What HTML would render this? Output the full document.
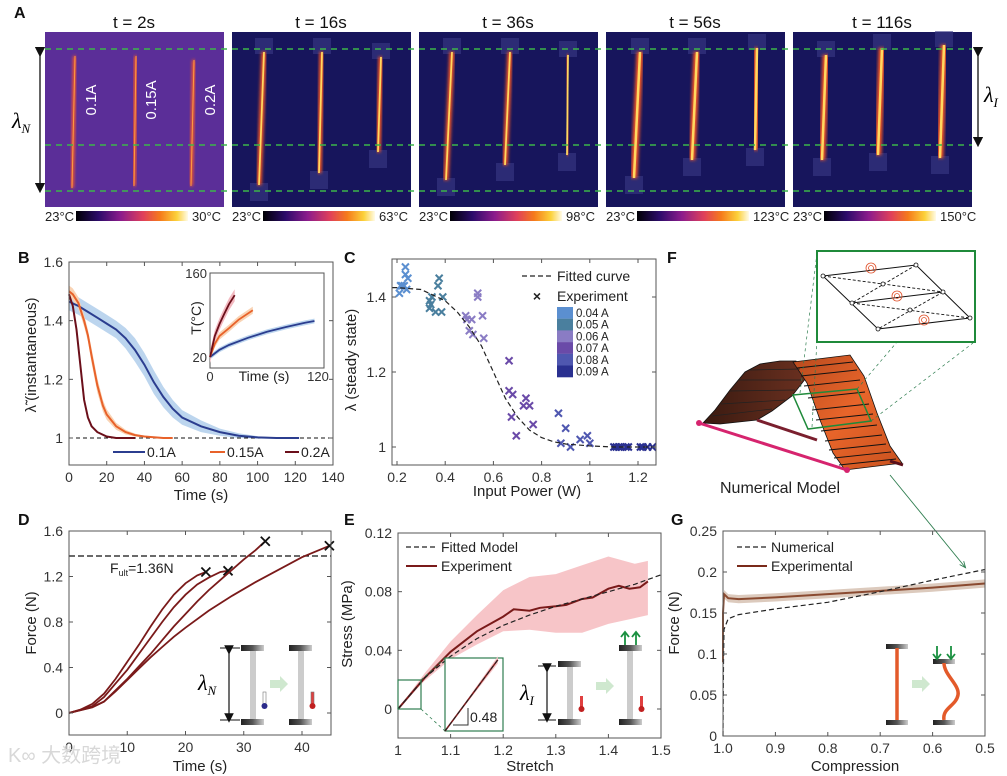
<!DOCTYPE html>
<html><head><meta charset="utf-8"><style>
html,body{margin:0;padding:0;background:#fff;}
svg{display:block;font-family:"Liberation Sans",sans-serif;}
</style></head><body>
<svg id="fig" width="1007" height="776" viewBox="0 0 1007 776" xmlns="http://www.w3.org/2000/svg">
<defs>
<linearGradient id="cbar" x1="0" x2="1" y1="0" y2="0">
<stop offset="0" stop-color="#000004"/><stop offset="0.2" stop-color="#2c0b6a"/><stop offset="0.4" stop-color="#8c1c8c"/><stop offset="0.6" stop-color="#e0405a"/><stop offset="0.75" stop-color="#f57a1c"/><stop offset="0.9" stop-color="#fcd13a"/><stop offset="1" stop-color="#fffbe8"/></linearGradient>
<linearGradient id="clamp" x1="0" x2="1"><stop offset="0" stop-color="#222"/><stop offset="0.5" stop-color="#555"/><stop offset="1" stop-color="#ccc"/></linearGradient>
<linearGradient id="orangeface" x1="0" x2="1" y1="0" y2="1"><stop offset="0" stop-color="#b84a1e"/><stop offset="0.5" stop-color="#e8652a"/><stop offset="1" stop-color="#c9521f"/></linearGradient>
<linearGradient id="darkface" x1="0" x2="1"><stop offset="0" stop-color="#3a1a10"/><stop offset="1" stop-color="#6a3020"/></linearGradient>
<filter id="glow" x="-50%" y="-10%" width="200%" height="120%"><feGaussianBlur stdDeviation="1.6"/></filter>
<marker id="ah" markerWidth="8" markerHeight="8" refX="4" refY="4" orient="auto"><path d="M0,0 L8,4 L0,8 z" fill="#111"/></marker>
<marker id="ahg" markerWidth="8" markerHeight="8" refX="6" refY="4" orient="auto"><path d="M0,1 L7,4 L0,7" fill="none" stroke="#2e7d4f" stroke-width="1"/></marker>
</defs>

<g font-weight="bold" font-size="16" fill="#111">
<text x="14" y="18">A</text>
<text x="18" y="263">B</text>
<text x="344" y="263">C</text>
<text x="667" y="263">F</text>
<text x="18" y="525">D</text>
<text x="344" y="525">E</text>
<text x="671" y="525">G</text>
</g>

<g id="panelA"></g>

<g>
<line x1="40" y1="52" x2="40" y2="188" stroke="#111" stroke-width="1.3" marker-start="url(#ah)" marker-end="url(#ah)"/>
<text x="12" y="128" font-family="Liberation Serif,serif" font-style="italic" font-size="22">λ<tspan font-size="13" dy="5">N</tspan></text>
</g>
<g>
<line x1="978" y1="52" x2="978" y2="142" stroke="#111" stroke-width="1.3" marker-start="url(#ah)" marker-end="url(#ah)"/>
<text x="984" y="102" font-family="Liberation Serif,serif" font-style="italic" font-size="22">λ<tspan font-size="13" dy="5">I</tspan></text>
</g>

<g>
<polygon points="703,423 715,410 730,390 745,372 760,364 780,361 796,361 806,378 792,396 772,411 757,420 720,424" fill="url(#darkface)" stroke="#111" stroke-width="0.8"/>
<polygon points="793,362 850,355 864,376 877,413 890,446 902,463 845,470 833,453 820,420 807,383" fill="url(#orangeface)" stroke="#111" stroke-width="0.8"/>
<g stroke="#111" stroke-width="0.9">
<line x1="797" y1="368" x2="853" y2="362"/><line x1="801" y1="376" x2="857" y2="370"/><line x1="804" y1="386" x2="860" y2="380"/><line x1="808" y1="398" x2="865" y2="392"/><line x1="812" y1="410" x2="869" y2="404"/><line x1="816" y1="420" x2="873" y2="414"/><line x1="821" y1="431" x2="877" y2="425"/><line x1="825" y1="441" x2="882" y2="435"/><line x1="829" y1="450" x2="886" y2="444"/><line x1="834" y1="458" x2="891" y2="452"/><line x1="839" y1="465" x2="896" y2="459"/>
<line x1="712" y1="416" x2="772" y2="409" stroke="#222" stroke-width="0.7"/><line x1="721" y1="404" x2="785" y2="400" stroke="#222" stroke-width="0.7"/><line x1="730" y1="391" x2="795" y2="390" stroke="#222" stroke-width="0.7"/><line x1="739" y1="380" x2="801" y2="380" stroke="#222" stroke-width="0.7"/><line x1="750" y1="370" x2="800" y2="369" stroke="#222" stroke-width="0.7"/>
</g>
<line x1="757" y1="420" x2="817" y2="440" stroke="#7a1f2e" stroke-width="3"/>
<line x1="699" y1="423" x2="847" y2="470" stroke="#d6246e" stroke-width="3"/>
<circle cx="699" cy="423" r="3" fill="#d6246e"/><circle cx="847" cy="470" r="3" fill="#d6246e"/>
<line x1="890" y1="461" x2="903" y2="465" stroke="#5a0f1a" stroke-width="3"/>
<polygon points="793,395 857,389 871,421 808,429" fill="none" stroke="#1f8a3a" stroke-width="1.5"/>
<g stroke="#2e7d4f" stroke-width="0.7" stroke-dasharray="3,3" fill="none">
<line x1="800" y1="393" x2="817" y2="253"/><line x1="812" y1="427" x2="817" y2="340"/>
<line x1="857" y1="389" x2="897" y2="342"/><line x1="871" y1="421" x2="973" y2="343"/>
</g>
<rect x="817" y="251" width="158" height="91" fill="#fff" stroke="#1f8a3a" stroke-width="2"/>
<g stroke="#111" fill="none">
<polygon points="823,276 916,265 970,318 878,329" stroke-width="1"/>
<line x1="852" y1="303" x2="943" y2="292" stroke-width="1"/>
<g stroke-dasharray="3,2" stroke-width="0.9"><line x1="823" y1="276" x2="943" y2="292"/><line x1="916" y1="265" x2="852" y2="303"/><line x1="852" y1="303" x2="970" y2="318"/><line x1="943" y1="292" x2="878" y2="329"/></g>
<g fill="#fff" stroke-width="0.8"><circle cx="823" cy="276" r="2"/><circle cx="916" cy="265" r="2"/><circle cx="970" cy="318" r="2"/><circle cx="878" cy="329" r="2"/><circle cx="852" cy="303" r="2"/><circle cx="943" cy="292" r="2"/><circle cx="883" cy="284" r="2"/><circle cx="910" cy="310" r="2"/></g>
<g stroke="#e0502a" stroke-width="0.8"><circle cx="871" cy="268" r="5"/><circle cx="871" cy="268" r="2.5"/><circle cx="897" cy="296" r="5"/><circle cx="897" cy="296" r="2.5"/><circle cx="924" cy="320" r="5"/><circle cx="924" cy="320" r="2.5"/></g>
</g>
<text x="720" y="493" font-size="16" fill="#222">Numerical Model</text>
<line x1="890" y1="475" x2="965" y2="567" stroke="#2e7d4f" stroke-width="0.9" marker-end="url(#ahg)"/>
</g>

<g id="charts"></g>

<g>
<line x1="229" y1="650" x2="229" y2="718" stroke="#111" stroke-width="1.2" marker-start="url(#ah)" marker-end="url(#ah)"/>
<line x1="220" y1="648" x2="240" y2="648" stroke="#111"/><line x1="220" y1="720" x2="240" y2="720" stroke="#111"/>
<text x="198" y="690" font-family="Liberation Serif,serif" font-style="italic" font-size="22">λ<tspan font-size="13" dy="5">N</tspan></text>
<rect x="250" y="650" width="6" height="70" fill="#ccc"/><rect x="241" y="645" width="23" height="6" fill="url(#clamp)"/><rect x="241" y="719" width="23" height="6" fill="url(#clamp)"/>
<rect x="263" y="692" width="3" height="12" fill="#fff" stroke="#777" stroke-width="0.6"/><circle cx="264.5" cy="706" r="3" fill="#2a2a8a"/>
<polygon points="270,680 280,680 280,676 288,684 280,692 280,688 270,688" fill="#cfe8cf"/>
<rect x="298" y="650" width="6" height="70" fill="#ccc"/><rect x="289" y="645" width="23" height="6" fill="url(#clamp)"/><rect x="289" y="719" width="23" height="6" fill="url(#clamp)"/>
<rect x="311" y="692" width="3" height="12" fill="#e04040" stroke="#777" stroke-width="0.6"/><circle cx="312.5" cy="706" r="3" fill="#c02020"/>
</g>
<g>
<line x1="547" y1="668" x2="547" y2="718" stroke="#111" stroke-width="1.2" marker-start="url(#ah)" marker-end="url(#ah)"/>
<line x1="538" y1="666" x2="556" y2="666" stroke="#111"/><line x1="538" y1="720" x2="556" y2="720" stroke="#111"/>
<text x="520" y="700" font-family="Liberation Serif,serif" font-style="italic" font-size="22">λ<tspan font-size="13" dy="5">I</tspan></text>
<rect x="567" y="666" width="6" height="54" fill="#ccc"/><rect x="558" y="661" width="23" height="6" fill="url(#clamp)"/><rect x="558" y="719" width="23" height="6" fill="url(#clamp)"/>
<rect x="580" y="696" width="3" height="12" fill="#e04040"/><circle cx="581.5" cy="709" r="3" fill="#c02020"/>
<polygon points="596,682 606,682 606,678 614,686 606,694 606,690 596,690" fill="#cfe8cf"/>
<rect x="627" y="650" width="6" height="70" fill="#ccc"/><rect x="619" y="645" width="23" height="6" fill="url(#clamp)"/><rect x="619" y="719" width="23" height="6" fill="url(#clamp)"/>
<rect x="640" y="696" width="3" height="12" fill="#e04040"/><circle cx="641.5" cy="709" r="3" fill="#c02020"/>
<g stroke="#1a9040" stroke-width="1.8" fill="none"><line x1="625" y1="645" x2="625" y2="633"/><polyline points="621,637 625,632 629,637"/><line x1="636" y1="645" x2="636" y2="633"/><polyline points="632,637 636,632 640,637"/></g>
</g>
<g>
<rect x="886" y="644" width="22" height="5" fill="url(#clamp)"/><rect x="886" y="720" width="22" height="5" fill="url(#clamp)"/>
<line x1="897" y1="648" x2="897" y2="720" stroke="#e35a2a" stroke-width="3.5"/>
<polygon points="912,680 922,680 922,676 930,684 922,692 922,688 912,688" fill="#cfe8cf"/>
<rect x="933" y="659" width="22" height="5" fill="url(#clamp)"/><rect x="933" y="720" width="22" height="5" fill="url(#clamp)"/>
<path d="M944,663 C944,675 960,685 958,695 C956,706 942,708 944,720" fill="none" stroke="#e35a2a" stroke-width="3.5"/>
<g stroke="#1a9040" stroke-width="1.8" fill="none"><line x1="937" y1="646" x2="937" y2="658"/><polyline points="933,654 937,659 941,654"/><line x1="951" y1="646" x2="951" y2="658"/><polyline points="947,654 951,659 955,654"/></g>
</g>

<text x="8" y="762" font-size="20" fill="#d8d8d8" font-family="Liberation Sans,'Noto Sans CJK SC',sans-serif">K∞ 大数跨境</text>
</svg>
<script>
const NS='http://www.w3.org/2000/svg';
const svg=document.getElementById('fig');
function mk(tag,attrs,parent){const e=document.createElementNS(NS,tag);for(const k in attrs)e.setAttribute(k,attrs[k]);(parent||svg).appendChild(e);return e;}
function lin(d0,d1,r0,r1){return v=>r0+(v-d0)*(r1-r0)/(d1-d0);}

const imgX=[45,232,419,606,793];
const imgTitles=['t = 2s','t = 16s','t = 36s','t = 56s','t = 116s'];
const imgMax=['30°C','63°C','98°C','123°C','150°C'];
const strips=[
 [[75,72,56,188],[136,134,56,186],[194,191,60,186]],
 [[264,259,52,185],[322,319,52,173],[381,378,57,152]],
 [[452,446,52,180],[510,505,52,165],[568,567,55,155]],
 [[640,634,52,178],[697,692,52,160],[757,755,48,150]],
 [[826,822,55,160],[882,878,48,155],[944,940,45,158]]];
const pA=document.getElementById('panelA');
imgX.forEach((x0,i)=>{
  const r=mk('rect',{x:x0,y:32,width:179,height:175,fill:i===0?'#5b2e98':'#17155c'},pA);
  
  
  strips[i].forEach(s=>{
    if(i>0){
      const c1=mk('rect',{x:s[0]-9,y:s[2]-14,width:18,height:16,fill:'#3b3a86',opacity:0.6},pA);
      
      
      const c2=mk('rect',{x:s[1]-9,y:s[3]-2,width:18,height:18,fill:'#3b3a86',opacity:0.6},pA);
      
      
    }
    const w=i===0?2:(i<3?3.5:5);
    const g=mk('line',{x1:s[0],y1:s[2],x2:s[1],y2:s[3],stroke:'#ff5a20','stroke-width':w+1.5,filter:'url(#glow)'},pA);
    
    
    const l=mk('line',{x1:s[0],y1:s[2],x2:s[1],y2:s[3],stroke:i===0?'#ff9a40':'#ffd860','stroke-width':w*0.5},pA);
    
    
  });
  const t=mk('text',{x:x0+89,y:28,'text-anchor':'middle','font-size':17,fill:'#111'},pA);
  t.textContent=imgTitles[i];
  
  
  const cb=mk('rect',{x:x0+31,y:211,width:112,height:10,fill:'url(#cbar)'},pA);
  
  
  const lo=mk('text',{x:x0,y:221,'font-size':13,fill:'#222'},pA);
  lo.textContent='23°C';
  
  
  const hi=mk('text',{x:x0+147,y:221,'font-size':13,fill:'#222'},pA);
  hi.textContent=imgMax[i];
  
  
});
['0.1A','0.15A','0.2A'].forEach((s,i)=>{
  const xx=[96,156,215][i];
  const t=mk('text',{x:xx,y:100,'font-size':15,fill:'#fff','text-anchor':'middle',transform:'rotate(-90 '+xx+' 100)'},pA);
  t.textContent=s;
  
  
});
[49,145,191].forEach(y=>{
  const l=mk('line',{x1:45,y1:y,x2:972,y2:y,stroke:'#3cb54a','stroke-width':1.6,'stroke-dasharray':'6,5'},pA);
  
  
});

// B
const bBlueT=[0,5,10,15,20,25,30,35,40,45,50,55,60,70,80,90,100,110,122];
const bBlueV=[1.465,1.45,1.43,1.41,1.39,1.37,1.34,1.30,1.25,1.19,1.14,1.10,1.07,1.04,1.02,1.008,1.002,1.0,1.0];
const bBlueS=[0.03,0.03,0.03,0.03,0.03,0.03,0.035,0.04,0.04,0.04,0.035,0.03,0.025,0.02,0.012,0.008,0.004,0.002,0.001];
const bOrT=[0,2,5,8,10,12,15,18,20,25,30,35,40,50,55];
const bOrV=[1.50,1.49,1.46,1.40,1.35,1.28,1.18,1.11,1.08,1.04,1.02,1.01,1.005,1.0,1.0];
const bOrS=[0.02,0.02,0.02,0.02,0.02,0.025,0.025,0.02,0.018,0.012,0.008,0.005,0.003,0.001,0.001];
const bDkT=[0,2,4,6,8,10,12,15,20,25,30,35];
const bDkV=[1.49,1.45,1.37,1.25,1.13,1.07,1.04,1.02,1.005,1.0,1.0,1.0];
const bXTicks=[0,20,40,60,80,100,120,140];
const bYTicks=[1,1.2,1.4,1.6];
const bYLabels=['1','1.2','1.4','1.6'];
const insBlueT=[0,10,20,40,60,80,100,110];
const insBlueV=[20,32,40,52,62,70,77,80];
const insOrT=[0,5,10,20,30,45];
const insOrV=[20,42,55,68,82,98];
const insDkT=[0,5,10,15,20,26];
const insDkV=[20,55,75,92,108,123];
// C
const cFitX=[0.18,0.2,0.3,0.4,0.45,0.5,0.55,0.6,0.65,0.7,0.75,0.8,0.85,0.9,1.0,1.1,1.275];
const cFitY=[1.425,1.425,1.42,1.39,1.36,1.32,1.27,1.2,1.13,1.08,1.045,1.025,1.014,1.008,1.003,1.0,1.0];
const cGroups=['0.04 A','0.05 A','0.06 A','0.07 A','0.08 A','0.09 A'];
const cColors=['#5b8fd0','#4a7f9e','#8a7cc4','#6a4aa8','#4f57b0','#2a3090'];
const cPtsX=[
 [0.21,0.22,0.23,0.235,0.235,0.245,0.24,0.215],
 [0.335,0.335,0.345,0.36,0.37,0.375,0.385,0.39,0.34],
 [0.485,0.49,0.50,0.51,0.515,0.535,0.535,0.555,0.56],
 [0.665,0.665,0.68,0.675,0.695,0.725,0.735,0.75,0.765],
 [0.87,0.88,0.90,0.92,0.96,0.99,1.0],
 [1.10,1.11,1.12,1.13,1.15,1.16,1.21,1.22,1.24,1.26]];
const cPtsY=[
 [1.41,1.43,1.43,1.48,1.46,1.45,1.42,1.43],
 [1.39,1.37,1.40,1.36,1.43,1.45,1.36,1.40,1.38],
 [1.35,1.34,1.31,1.34,1.30,1.41,1.40,1.35,1.29],
 [1.23,1.15,1.14,1.08,1.03,1.11,1.13,1.11,1.06],
 [1.09,1.01,1.05,1.0,1.02,1.03,1.01],
 [1.0,1.0,1.0,1.0,1.0,1.0,1.0,1.0,1.0,1.0]];
const cXTicks=[0.2,0.4,0.6,0.8,1,1.2];
const cXLabels=['0.2','0.4','0.6','0.8','1','1.2'];
const cYTicks=[1,1.2,1.4];
const cYLabels=['1','1.2','1.4'];
// D
const dT=[[0,2,4,6,8,10,12,14,16,18,20,22,23.5],[0,4,6,8,10,12,14,16,18,20,22,24,26,27.3],[0,4,6,8,10,12,14,16,18,20,22,24,26,28,30,32,33.7],[0,4,6,8,10,12,14,16,18,20,24,28,32,36,40,44.7]];
const dF=[[0,0.03,0.08,0.17,0.30,0.45,0.60,0.76,0.91,1.04,1.14,1.21,1.24],[0,0.06,0.14,0.26,0.38,0.52,0.66,0.80,0.93,1.04,1.13,1.19,1.24,1.25],[0,0.05,0.10,0.20,0.30,0.41,0.52,0.64,0.76,0.87,0.98,1.08,1.17,1.26,1.35,1.43,1.51],[0,0.05,0.10,0.19,0.29,0.39,0.49,0.58,0.67,0.75,0.90,1.03,1.15,1.26,1.37,1.47]];
const dUlt=[1.38];
const dXTicks=[0,10,20,30,40];
const dYTicks=[0,0.4,0.8,1.2,1.6];
const dYLabels=['0','0.4','0.8','1.2','1.6'];
// E
const eFitX=[1,1.05,1.1,1.15,1.2,1.25,1.3,1.35,1.4,1.45,1.5];
const eFitY=[0,0.021,0.036,0.048,0.057,0.064,0.070,0.075,0.080,0.085,0.0915];
const eExpX=[1,1.05,1.1,1.15,1.2,1.22,1.25,1.27,1.3,1.32,1.35,1.37,1.4,1.42,1.44,1.46,1.475];
const eExpY=[0,0.021,0.039,0.053,0.063,0.068,0.067,0.069,0.070,0.071,0.075,0.076,0.082,0.084,0.082,0.083,0.087];
const eBandX=[1,1.05,1.1,1.15,1.2,1.25,1.3,1.35,1.4,1.45,1.475];
const eBandHi=[0,0.024,0.046,0.064,0.081,0.090,0.092,0.098,0.104,0.099,0.101];
const eBandLo=[0,0.019,0.034,0.044,0.053,0.054,0.052,0.052,0.058,0.062,0.064];
const eXTicks=[1,1.1,1.2,1.3,1.4,1.5];
const eXLabels=['1','1.1','1.2','1.3','1.4','1.5'];
const eYTicks=[0,0.04,0.08,0.12];
const eYLabels=['0','0.04','0.08','0.12'];
// G
const gNumX=[1.0,0.999,0.998,0.99,0.97,0.9,0.8,0.7,0.6,0.5];
const gNumY=[0,0.09,0.13,0.143,0.148,0.155,0.163,0.176,0.19,0.203];
const gExpX=[1.0,1.0,0.998,0.99,0.97,0.9,0.8,0.7,0.6,0.5];
const gExpY=[0.09,0.15,0.173,0.168,0.167,0.169,0.173,0.177,0.181,0.186];
const gXTicks=[1.0,0.9,0.8,0.7,0.6,0.5];
const gXLabels=['1.0','0.9','0.8','0.7','0.6','0.5'];
const gYTicks=[0,0.05,0.1,0.15,0.2,0.25];
const gYLabels=['0','0.05','0.1','0.15','0.2','0.25'];

const charts=document.getElementById('charts');
function pathD(xs,ys,X,Y){return xs.map((x,i)=>(i?'L':'M')+X(x).toFixed(1)+','+Y(ys[i]).toFixed(1)).join(' ');}
function bandD(xs,hi,lo,X,Y){let d=xs.map((x,i)=>(i?'L':'M')+X(x).toFixed(1)+','+Y(hi[i]).toFixed(1)).join(' ');for(let i=xs.length-1;i>=0;i--)d+=' L'+X(xs[i]).toFixed(1)+','+Y(lo[i]).toFixed(1);return d+' Z';}
function axes(nm,bx,X,Y,xt,xl,yt,yl,fs,g){
  const r=mk('rect',{x:bx[0],y:bx[2],width:bx[1]-bx[0],height:bx[3]-bx[2],fill:'none',stroke:'#555','stroke-width':1},g);
  
  
  xt.forEach((v,i)=>{
    const x=X(v);
    mk('line',{x1:x,y1:bx[3],x2:x,y2:bx[3]-4,stroke:'#555'},g);
    mk('line',{x1:x,y1:bx[2],x2:x,y2:bx[2]+4,stroke:'#555'},g);
    const t=mk('text',{x:x,y:bx[3]+17,'text-anchor':'middle','font-size':fs,fill:'#333'},g);
    t.textContent=xl[i];
    
    
  });
  yt.forEach((v,i)=>{
    const y=Y(v);
    mk('line',{x1:bx[0],y1:y,x2:bx[0]+4,y2:y,stroke:'#555'},g);
    mk('line',{x1:bx[1],y1:y,x2:bx[1]-4,y2:y,stroke:'#555'},g);
    const t=mk('text',{x:bx[0]-6,y:y+5,'text-anchor':'end','font-size':fs,fill:'#333'},g);
    t.textContent=yl[i];
    
    
  });
}
function label(txt,x,y,rot,nm,fs){
  const t=mk('text',{x:x,y:y,'text-anchor':'middle','font-size':fs||15,fill:'#222',transform:rot?'rotate(-90 '+x+' '+y+')':''},charts);
  t.textContent=txt;
  
  
  return t;
}
function series(d,attrs,nm,g){
  const p=mk('path',Object.assign({d:d,fill:'none'},attrs),g||charts);
  
  
  return p;
}

/* B */
{
const X=lin(0,140,69,333),Y=lin(1,1.6,438,262);
const add=(a,b,s)=>a.map((v,i)=>v+s*b[i]);
series(bandD(bBlueT,add(bBlueV,bBlueS,1),add(bBlueV,bBlueS,-1),X,Y),{fill:'#bcd5ee',stroke:'none'},'b-band-0.1a');
series(bandD(bOrT,add(bOrV,bOrS,1),add(bOrV,bOrS,-1),X,Y),{fill:'#f9d3b4',stroke:'none'},'b-band-0.15a');
series(pathD([0,140],[1,1],X,Y),{stroke:'#111','stroke-dasharray':'4,3','stroke-width':1},'b-baseline');
series(pathD(bBlueT,bBlueV,X,Y),{stroke:'#2b3d8f','stroke-width':2},'b-line-0.1a');
series(pathD(bOrT,bOrV,X,Y),{stroke:'#e8622a','stroke-width':2},'b-line-0.15a');
series(pathD(bDkT,bDkV,X,Y),{stroke:'#6b0f1a','stroke-width':2},'b-line-0.2a');
axes('b',[69,333,262,465],X,Y,bXTicks,bXTicks.map(String),bYTicks,bYLabels,14,charts);
label('Time (s)',201,500,false,'b-x-axis-title');
label('λ̃ (instantaneous)',36,355,true,'b-y-axis-title');
[['0.1A','#2b3d8f',113,145,147],['0.15A','#e8622a',210,225,227],['0.2A','#6b0f1a',285,299,301]].forEach(l=>{
  const ln=mk('line',{x1:l[2],y1:452,x2:l[3],y2:452,stroke:l[1],'stroke-width':2},charts);
  
  
  const t=mk('text',{x:l[4],y:457,'font-size':14,fill:'#222'},charts);
  t.textContent=l[0];
  
  
});
const IX=lin(0,120,210,324),IY=lin(20,160,357,273);
const ir=mk('rect',{x:210,y:273,width:114,height:95,fill:'#fff',stroke:'#555'},charts);


series(bandD(insBlueT,insBlueV.map(v=>v+4),insBlueV.map(v=>v-4),IX,IY),{fill:'#bcd5ee',stroke:'none'},'b-inset-band-0.1a');
series(bandD(insOrT,insOrV.map(v=>v+6),insOrV.map(v=>v-6),IX,IY),{fill:'#f9d3b4',stroke:'none'},'b-inset-band-0.15a');
series(bandD(insDkT,insDkV.map(v=>v+10),insDkV.map(v=>v-10),IX,IY),{fill:'#f3b9c0',stroke:'none'},'b-inset-band-0.2a');
series(pathD(insBlueT,insBlueV,IX,IY),{stroke:'#2b3d8f','stroke-width':1.8},'b-inset-line-0.1a');
series(pathD(insOrT,insOrV,IX,IY),{stroke:'#e8622a','stroke-width':1.8},'b-inset-line-0.15a');
series(pathD(insDkT,insDkV,IX,IY),{stroke:'#6b0f1a','stroke-width':1.8},'b-inset-line-0.2a');
[[0,'0',210],[120,'120',318]].forEach(a=>{const t=mk('text',{x:a[2],y:381,'text-anchor':'middle','font-size':13,fill:'#333'},charts);t.textContent=a[1];});
[[20,'20'],[160,'160']].forEach(a=>{const t=mk('text',{x:207,y:IY(a[0])+5,'text-anchor':'end','font-size':13,fill:'#333'},charts);t.textContent=a[1];});
label('Time (s)',264,381,false,'b-inset-x-title',14);
label('T(°C)',201,318,true,'b-inset-y-title',14);
}

/* C */
{
const X=lin(0.2,1.2,397,638),Y=lin(1,1.4,447,297);
cPtsX.forEach((xs,g)=>{xs.forEach((xv,i)=>{
  const x=X(xv),y=Y(cPtsY[g][i]);
  const m=mk('path',{d:`M${x-3.5},${y-3.5}L${x+3.5},${y+3.5}M${x-3.5},${y+3.5}L${x+3.5},${y-3.5}`,stroke:cColors[g],'stroke-width':2},charts);
  
  
});});
series(pathD(cFitX,cFitY,X,Y),{stroke:'#222','stroke-width':1.2,'stroke-dasharray':'5,3'},'c-fitted-curve');
axes('c',[392,656,259,465],X,Y,cXTicks,cXLabels,cYTicks,cYLabels,14,charts);
label('Input Power (W)',527,496,false,'c-x-axis-title');
label('λ (steady state)',356,360,true,'c-y-axis-title');
const l1=mk('line',{x1:522,y1:276,x2:553,y2:276,stroke:'#222','stroke-dasharray':'5,3','stroke-width':1.2},charts);


const t1=mk('text',{x:557,y:281,'font-size':14,fill:'#222'},charts);t1.textContent='Fitted curve';


const xm=mk('text',{x:537,y:301,'font-size':14,'font-weight':'bold','text-anchor':'middle',fill:'#222'},charts);xm.textContent='×';


const t2=mk('text',{x:557,y:301,'font-size':14,fill:'#222'},charts);t2.textContent='Experiment';


cGroups.forEach((s,i)=>{
  const r=mk('rect',{x:557,y:307+i*11.7,width:16,height:11.8,fill:cColors[i]},charts);
  
  
  const t=mk('text',{x:576,y:317+i*11.7,'font-size':11.5,fill:'#222'},charts);t.textContent=s;
  
  
});
}

/* D */
{
const X=lin(0,40,69,302),Y=lin(0,1.6,713,531);
series(pathD([0,45],[dUlt[0],dUlt[0]],X,Y),{stroke:'#111','stroke-dasharray':'6,3','stroke-width':1.2},'d-ultimate-force-line');
dT.forEach((ts,k)=>{
  series(pathD(ts,dF[k],X,Y),{stroke:'#7a1a1a','stroke-width':1.8},'d-force-curve-'+(k+1));
  const n=ts.length-1,x=X(ts[n]),y=Y(dF[k][n]);
  const m=mk('path',{d:`M${x-4.5},${y-4.5}L${x+4.5},${y+4.5}M${x-4.5},${y+4.5}L${x+4.5},${y-4.5}`,stroke:'#111','stroke-width':1.8},charts);
  
  
});
axes('d',[69,331,531,735],X,Y,dXTicks,dXTicks.map(String),dYTicks,dYLabels,14,charts);
label('Time (s)',200,771,false,'d-x-axis-title');
label('Force (N)',36,623,true,'d-y-axis-title');
const ft=mk('text',{x:110,y:573,'font-size':14,fill:'#222'},charts);
ft.innerHTML='F<tspan font-size="9" dy="3">ult</tspan><tspan dy="-3">=1.36N</tspan>';


}

/* E */
{
const X=lin(1,1.5,398,661),Y=lin(0,0.12,709,533);
series(bandD(eBandX,eBandHi,eBandLo,X,Y),{fill:'#f7c5c8',stroke:'none'},'e-experiment-band');
series(pathD(eExpX,eExpY,X,Y),{stroke:'#7a1a1a','stroke-width':2},'e-experiment-line');
series(pathD(eFitX,eFitY,X,Y),{stroke:'#222','stroke-width':1.2,'stroke-dasharray':'5,3'},'e-fitted-model');
axes('e',[398,661,533,738],X,Y,eXTicks,eXLabels,eYTicks,eYLabels,14,charts);
label('Stretch',530,771,false,'e-x-axis-title');
label('Stress (MPa)',352,624,true,'e-y-axis-title');
const zb=mk('rect',{x:398,y:680,width:23,height:29,fill:'none',stroke:'#2e7d4f','stroke-width':1.2},charts);


const gl=mk('path',{d:'M421,680 L445,658 M421,709 L445,731',stroke:'#2e7d4f','stroke-dasharray':'3,3','stroke-width':0.8,fill:'none'},charts);


const ib=mk('rect',{x:445,y:658,width:58,height:73,fill:'#fff',stroke:'#2e7d4f','stroke-width':1.2},charts);


const IX=lin(1,1.045,445,503),IY=lin(0,0.02,731,658);
series(bandD([1,1.041],[0,0.0205],[0,0.0185],IX,IY),{fill:'#f7c5c8',stroke:'none'},'e-inset-band');
series(pathD([1,1.041],[0,0.0195],IX,IY),{stroke:'#7a1a1a','stroke-width':1.5},'e-inset-experiment');
series(pathD([1,1.041],[0,0.0195],IX,IY),{stroke:'#222','stroke-width':1,'stroke-dasharray':'4,3'},'e-inset-fit');
const tri=mk('path',{d:'M453,725 L468,725 L468,708',fill:'none',stroke:'#333','stroke-width':1},charts);


const st=mk('text',{x:470,y:722,'font-size':14,fill:'#222'},charts);st.textContent='0.48';


const l1=mk('line',{x1:406,y1:547,x2:437,y2:547,stroke:'#222','stroke-dasharray':'5,3','stroke-width':1.2},charts);


const t1=mk('text',{x:441,y:552,'font-size':14,fill:'#222'},charts);t1.textContent='Fitted Model';


const l2=mk('line',{x1:406,y1:566,x2:437,y2:566,stroke:'#7a1a1a','stroke-width':2},charts);


const t2=mk('text',{x:441,y:571,'font-size':14,fill:'#222'},charts);t2.textContent='Experiment';


}

/* G */
{
const X=lin(1,0.5,723,985),Y=lin(0,0.25,736,531);
series(bandD(gExpX.slice(2),gExpY.slice(2).map(v=>v+0.005),gExpY.slice(2).map(v=>v-0.005),X,Y),{fill:'#dccabd',stroke:'none'},'g-experimental-band');
series(pathD(gExpX,gExpY,X,Y),{stroke:'#8a4a30','stroke-width':2},'g-experimental-line');
series(pathD(gNumX,gNumY,X,Y),{stroke:'#222','stroke-width':1.2,'stroke-dasharray':'5,3'},'g-numerical-line');
axes('g',[723,985,531,736],X,Y,gXTicks,gXLabels,gYTicks,gYLabels,14,charts);
label('Compression',855,771,false,'g-x-axis-title');
label('Force (N)',679,623,true,'g-y-axis-title');
const l1=mk('line',{x1:737,y1:547,x2:767,y2:547,stroke:'#222','stroke-dasharray':'5,3','stroke-width':1.2},charts);


const t1=mk('text',{x:771,y:552,'font-size':14,fill:'#222'},charts);t1.textContent='Numerical';


const l2=mk('line',{x1:737,y1:566,x2:767,y2:566,stroke:'#7a2a1a','stroke-width':2},charts);


const t2=mk('text',{x:771,y:571,'font-size':14,fill:'#222'},charts);t2.textContent='Experimental';


}
</script>
</body></html>
